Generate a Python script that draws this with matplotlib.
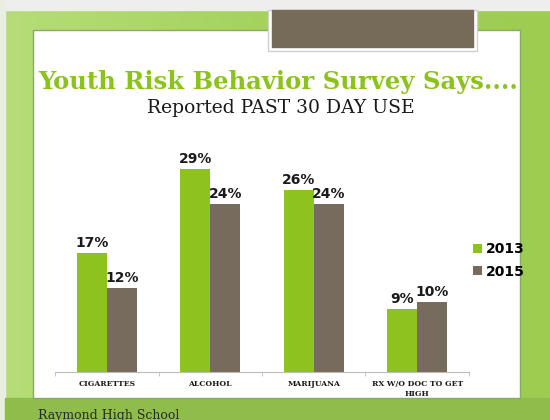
import matplotlib
matplotlib.use('Agg')
import matplotlib.pyplot as plt
from matplotlib.patches import Rectangle
import numpy as np

categories = ['CIGARETTES', 'ALCOHOL', 'MARIJUANA', 'RX W/O DOC TO GET\nHIGH']
years = ['2013', '2015']
use_2013 = [17, 29, 26, 9]
use_2015 = [12, 24, 24, 10]

green = '#8dc21f'
brown = '#766b5c'

W, H = 550, 420
fig = plt.figure(figsize=(W / 100, H / 100), dpi=100)

# slide background
bg = fig.add_axes([0, 0, 1, 1])
bg.set_xlim(0, W)
bg.set_ylim(H, 0)
bg.axis('off')
grad = np.linspace(0, 1, 256)[None, :]
bg.imshow(grad, extent=(5, W, H, 10), cmap=matplotlib.colors.LinearSegmentedColormap.from_list(
    'g', ['#b6dd78', '#a4d25c', '#9ccc50']), aspect='auto', zorder=0)
bg.add_patch(Rectangle((0, 0), W, 10, color='#eeeeee', zorder=1))
bg.add_patch(Rectangle((0, 0), 5, H, color='#e8eee0', zorder=1))
bg.add_patch(Rectangle((5, 398), W - 5, 22, color='#8fbd4c', zorder=1))
bg.add_patch(Rectangle((33, 30), 487, 368, facecolor='white', edgecolor='#8aa86a', lw=1, zorder=2))
bg.add_patch(Rectangle((268, 10), 209, 41, facecolor='white', edgecolor='#cfcfcf', lw=1, zorder=3))
bg.add_patch(Rectangle((272, 10), 201, 37, color='#766a59', zorder=4))
bg.text(38, 415, 'Raymond High School', fontsize=9, family='DejaVu Serif',
        color='#2a2a2a', va='center', zorder=5)

fig.text(0.505, 0.805, 'Youth Risk Behavior Survey Says....', ha='center', va='center',
         fontsize=17.5, fontweight='bold', family='DejaVu Serif', color='#8cc21c')
fig.text(0.51, 0.743, 'Reported PAST 30 DAY USE', ha='center', va='center',
         fontsize=13.5, family='DejaVu Serif', color='#1a1a1a')

ax = fig.add_axes([55 / W, 48 / H, 414 / W, 245 / H])
x = np.arange(len(categories))
bw = 0.29
b1 = ax.bar(x - bw / 2, use_2013, bw, color=green, label=years[0])
b2 = ax.bar(x + bw / 2, use_2015, bw, color=brown, label=years[1])
for bars in (b1, b2):
    for r in bars:
        ax.text(r.get_x() + r.get_width() / 2, r.get_height() + 0.4, f'{int(r.get_height())}%',
                ha='center', va='bottom', fontsize=10, fontweight='bold',
                family='DejaVu Sans', color='#1a1a1a')

ax.set_xlim(-0.5, len(categories) - 0.5)
ax.set_ylim(0, 35)
ax.set_yticks([])
ax.set_xticks(x)
ax.set_xticklabels(categories, fontsize=5.5, fontweight='bold', family='DejaVu Serif',
                   color='#1a1a1a', linespacing=1.3)
ax.set_xticks(np.arange(-0.5, len(categories) + 0.5, 1), minor=True)
ax.tick_params(axis='x', which='major', length=0, pad=6)
ax.tick_params(axis='x', which='minor', length=3, color='#bbbbbb')
for s in ['top', 'right', 'left']:
    ax.spines[s].set_visible(False)
ax.spines['bottom'].set_color('#bbbbbb')
ax.patch.set_alpha(0)

ax.legend(loc='center left', bbox_to_anchor=(0.98, 0.455), frameon=False,
          prop={'family': 'DejaVu Sans', 'weight': 'bold', 'size': 10},
          handlelength=0.6, handleheight=0.6, handletextpad=0.3, labelspacing=0.6)

fig.savefig('out.png', dpi=100)
